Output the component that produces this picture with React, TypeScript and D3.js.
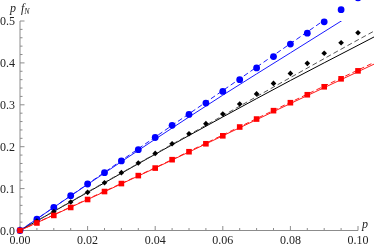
import * as d3 from "d3";

const pPoints = [
  0, 0.005, 0.01, 0.015, 0.02, 0.025, 0.03, 0.035, 0.04, 0.045, 0.05, 0.055,
  0.06, 0.065, 0.07, 0.075, 0.08, 0.085, 0.09, 0.095, 0.1,
];
const bluePoints = [
  0, 0.027, 0.055, 0.083, 0.111, 0.138, 0.166, 0.193, 0.222, 0.251, 0.277,
  0.304, 0.332, 0.36, 0.388, 0.415, 0.445, 0.471, 0.498, 0.527, 0.555,
];
const blackPoints = [
  0, 0.0225, 0.045, 0.068, 0.091, 0.114, 0.138, 0.161, 0.184, 0.207, 0.231,
  0.255, 0.278, 0.302, 0.326, 0.351, 0.375, 0.399, 0.423, 0.448, 0.472,
];
const redPoints = [
  0, 0.018, 0.036, 0.055, 0.074, 0.093, 0.112, 0.131, 0.149, 0.169, 0.188,
  0.207, 0.226, 0.247, 0.266, 0.286, 0.305, 0.324, 0.343, 0.362, 0.381,
];

// curves (solid = model, dashed = approximation)
const pCurve = [0, 0.02, 0.04, 0.06, 0.08, 0.1, 0.105];
const blueSolid = [0, 0.11, 0.218, 0.323, 0.424, 0.525, 0.55];
const blueDashed = [0, 0.111, 0.223, 0.334, 0.446, 0.558, 0.586];
const blackSolid = [0, 0.091, 0.182, 0.271, 0.358, 0.442, 0.463];
const blackDashed = [0, 0.092, 0.183, 0.274, 0.365, 0.455, 0.477];
const redSolid = [0, 0.074, 0.149, 0.226, 0.303, 0.379, 0.398];
const redDashed = [0, 0.075, 0.15, 0.228, 0.306, 0.383, 0.402];

const xMajor = [0, 0.02, 0.04, 0.06, 0.08, 0.1];
const xMinor = [
  0.005, 0.01, 0.015, 0.025, 0.03, 0.035, 0.045, 0.05, 0.055, 0.065, 0.07,
  0.075, 0.085, 0.09, 0.095,
];
const yMajor = [0, 0.1, 0.2, 0.3, 0.4, 0.5];
const yMinor = [
  0.02, 0.04, 0.06, 0.08, 0.12, 0.14, 0.16, 0.18, 0.22, 0.24, 0.26, 0.28, 0.32,
  0.34, 0.36, 0.38, 0.42, 0.44, 0.46, 0.48,
];

const width = 374;
const height = 245;
const axisColor = "#8c8c8c";
const font = "'Liberation Serif', 'DejaVu Serif', serif";

const App = () => {
  const x = d3.scaleLinear().domain([0, 0.1]).range([20, 358]);
  const y = d3.scaleLinear().domain([0, 0.5]).range([230.5, 21]);

  const line = (vals: number[]) =>
    d3
      .line<number>()
      .x((_, i) => x(pCurve[i]))
      .y((d) => y(d))
      .curve(d3.curveMonotoneX)(vals) ?? "";

  const curves = [
    { vals: blueSolid, color: "#1a1aff", dash: undefined },
    { vals: blueDashed, color: "#1a1aff", dash: "5,3" },
    { vals: blackSolid, color: "#000", dash: undefined },
    { vals: blackDashed, color: "#555", dash: "5,3" },
    { vals: redSolid, color: "#ff1a1a", dash: undefined },
    { vals: redDashed, color: "#ff1a1a", dash: "5,3" },
  ];

  return (
    <div style={{ position: "fixed", left: 0, top: 0 }}>
      <svg width={width} height={height} style={{ display: "block" }}>
        <defs>
          <clipPath id="plotClip">
            <rect x={x(0)} y={y(0.5)} width={width - x(0)} height={y(0) - y(0.5) + 1} />
          </clipPath>
        </defs>

        {/* axes */}
        <line x1={x(0)} x2={x(0.1)} y1={y(0)} y2={y(0)} stroke={axisColor} />
        <line x1={x(0)} x2={x(0)} y1={y(0)} y2={y(0.5)} stroke={axisColor} />
        {xMajor.map((d) => (
          <line key={"xM" + d} x1={x(d)} x2={x(d)} y1={y(0)} y2={y(0) - 4.5} stroke={axisColor} />
        ))}
        {xMinor.map((d) => (
          <line key={"xm" + d} x1={x(d)} x2={x(d)} y1={y(0)} y2={y(0) - 2.5} stroke={axisColor} />
        ))}
        {yMajor.map((d) => (
          <line key={"yM" + d} x1={x(0)} x2={x(0) + 4.5} y1={y(d)} y2={y(d)} stroke={axisColor} />
        ))}
        {yMinor.map((d) => (
          <line key={"ym" + d} x1={x(0)} x2={x(0) + 2.5} y1={y(d)} y2={y(d)} stroke={axisColor} />
        ))}

        <g fontFamily={font} fontSize={12} fill="#222">
          {xMajor.map((d) => (
            <text key={"xl" + d} x={x(d)} y={y(0) + 13} textAnchor="middle">
              {d3.format(".2f")(d)}
            </text>
          ))}
          {yMajor.map((d) => (
            <text key={"yl" + d} x={x(0) - 5} y={y(d) + 4} textAnchor="end">
              {d3.format(".1f")(d)}
            </text>
          ))}
          <text x={10} y={12} fontStyle="italic">
            p <tspan dx={2}>f</tspan>
            <tspan fontSize={8} dy={2} fontStyle="italic">N</tspan>
          </text>
          <text x={362} y={228} fontStyle="italic">p</text>
        </g>

        {/* curves */}
        <g clipPath="url(#plotClip)" fill="none" strokeWidth={1}>
          {curves.map((c, i) => (
            <path key={i} d={line(c.vals)} stroke={c.color} strokeDasharray={c.dash} />
          ))}
        </g>

        {/* points */}
        {pPoints.map((p, i) => (
          <circle key={"b" + i} cx={x(p)} cy={y(bluePoints[i])} r={3.4} fill="#0000ff" />
        ))}
        {pPoints.map((p, i) => (
          <path
            key={"k" + i}
            d={d3.symbol(d3.symbolSquare, 16)() ?? ""}
            transform={`translate(${x(p)},${y(blackPoints[i])}) rotate(45)`}
            fill="#000"
          />
        ))}
        {pPoints.map((p, i) => (
          <rect
            key={"r" + i}
            x={x(p) - 2.8}
            y={y(redPoints[i]) - 2.8}
            width={5.6}
            height={5.6}
            fill="#ff0000"
          />
        ))}
      </svg>
    </div>
  );
};

export default App;
